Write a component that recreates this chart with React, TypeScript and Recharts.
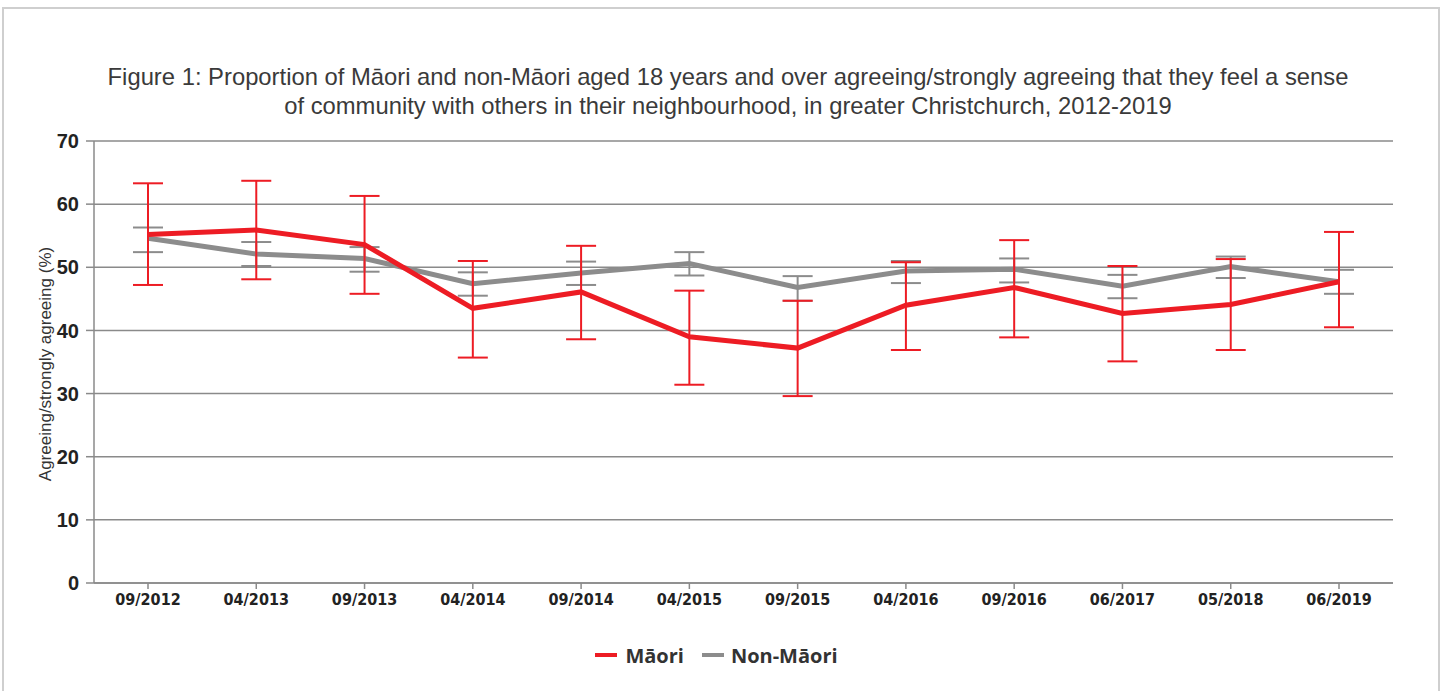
import React from 'react';
import {
  LineChart,
  Line,
  XAxis,
  YAxis,
  CartesianGrid,
  ErrorBar,
  Legend,
} from 'recharts';

const surveyDates = [
  '09/2012', '04/2013', '09/2013', '04/2014', '09/2014', '04/2015',
  '09/2015', '04/2016', '09/2016', '06/2017', '05/2018', '06/2019',
];

const maori = [55.2, 55.9, 53.6, 43.5, 46.1, 39.0, 37.2, 44.0, 46.8, 42.7, 44.1, 47.7];
const maoriLow = [47.2, 48.1, 45.8, 35.7, 38.6, 31.4, 29.6, 36.9, 38.9, 35.1, 36.9, 40.5];
const maoriHigh = [63.3, 63.7, 61.3, 51.0, 53.4, 46.3, 44.7, 50.8, 54.3, 50.2, 51.3, 55.6];

const nonMaori = [54.6, 52.1, 51.4, 47.4, 49.1, 50.6, 46.8, 49.4, 49.7, 47.0, 50.1, 47.7];
const nonMaoriLow = [52.4, 50.2, 49.3, 45.5, 47.2, 48.7, 44.7, 47.5, 47.6, 45.1, 48.3, 45.8];
const nonMaoriHigh = [56.3, 54.0, 53.2, 49.2, 50.9, 52.4, 48.6, 51.0, 51.4, 48.8, 51.7, 49.6];

const yTicks = [0, 10, 20, 30, 40, 50, 60, 70];

const RED = '#ed1c24';
const GREY = '#8c8c8c';

const data = surveyDates.map((d, i) => ({
  date: d,
  maori: maori[i],
  maoriErr: [maori[i] - maoriLow[i], maoriHigh[i] - maori[i]],
  nonMaori: nonMaori[i],
  nonMaoriErr: [nonMaori[i] - nonMaoriLow[i], nonMaoriHigh[i] - nonMaori[i]],
}));

const LegendBox = () => (
  <div
    style={{
      display: 'flex',
      justifyContent: 'center',
      alignItems: 'center',
      height: 44,
      paddingLeft: 10,
      fontFamily: '"Open Sans", "Noto Sans", sans-serif',
      fontWeight: 700,
      fontSize: 20,
      color: '#333',
    }}
  >
    <span style={{ display: 'inline-block', width: 22, height: 4, background: RED, marginRight: 8 }} />
    <span style={{ marginRight: 18 }}>Māori</span>
    <span style={{ display: 'inline-block', width: 22, height: 4, background: GREY, marginRight: 7 }} />
    <span>Non-Māori</span>
  </div>
);

export default function App() {
  return (
    <div style={{ position: 'absolute', left: 0, top: 0, width: 1444, height: 691, background: '#fff', overflow: 'hidden' }}>
      <div
        style={{
          position: 'absolute',
          left: 2,
          top: 7,
          width: 1434,
          height: 700,
          border: '2px solid #cfcfcf',
        }}
      />
      <div
        style={{
          position: 'absolute',
          left: 0,
          top: 62,
          width: 1456,
          textAlign: 'center',
          fontFamily: '"Liberation Sans", Arial, sans-serif',
          fontSize: 23.8,
          lineHeight: '29px',
          color: '#3a3a3a',
        }}
      >
        Figure 1: Proportion of Māori and non-Māori aged 18 years and over agreeing/strongly agreeing that they feel a sense
        <br />
        of community with others in their neighbourhood, in greater Christchurch, 2012-2019
      </div>
      <div style={{ position: 'absolute', left: 0, top: 0 }}>
        <LineChart
          width={1444}
          height={691}
          data={data}
          margin={{ top: 141, right: 51, left: 30, bottom: 14 }}
        >
          <CartesianGrid vertical={false} stroke="#8a8a8a" strokeWidth={1.5} />
          <XAxis
            dataKey="date"
            height={50}
            padding={{ left: 54, right: 54 }}
            stroke="#8a8a8a"
            strokeWidth={1.5}
            tickSize={6}
            tick={{ fill: '#222', fontSize: 16, fontFamily: '"Liberation Sans Narrow", "DejaVu Sans Condensed", sans-serif', fontWeight: 700 }}
            tickMargin={5}
          />
          <YAxis
            width={64}
            domain={[0, 70]}
            ticks={yTicks}
            interval={0}
            stroke="#8a8a8a"
            strokeWidth={1.5}
            tickSize={8}
            tick={{ fill: '#222', fontSize: 20, fontFamily: '"Liberation Sans", Arial, sans-serif', fontWeight: 700 }}
            tickMargin={7}
            label={{
              value: 'Agreeing/strongly agreeing (%)',
              angle: -90,
              position: 'center',
              dx: -17,
              dy: 2,
              style: { fill: '#333', fontSize: 17, fontFamily: '"Liberation Sans", Arial, sans-serif' },
            }}
          />
          <Legend verticalAlign="bottom" height={44} content={<LegendBox />} />
          <Line
            type="linear"
            dataKey="nonMaori"
            name="Non-Māori"
            stroke={GREY}
            strokeWidth={5}
            dot={false}
            activeDot={false}
            isAnimationActive={false}
          >
            <ErrorBar dataKey="nonMaoriErr" width={15} stroke={GREY} strokeWidth={2} direction="y" isAnimationActive={false} />
          </Line>
          <Line
            type="linear"
            dataKey="maori"
            name="Māori"
            stroke={RED}
            strokeWidth={5}
            dot={false}
            activeDot={false}
            isAnimationActive={false}
          >
            <ErrorBar dataKey="maoriErr" width={15} stroke={RED} strokeWidth={2} direction="y" isAnimationActive={false} />
          </Line>
        </LineChart>
      </div>
    </div>
  );
}
